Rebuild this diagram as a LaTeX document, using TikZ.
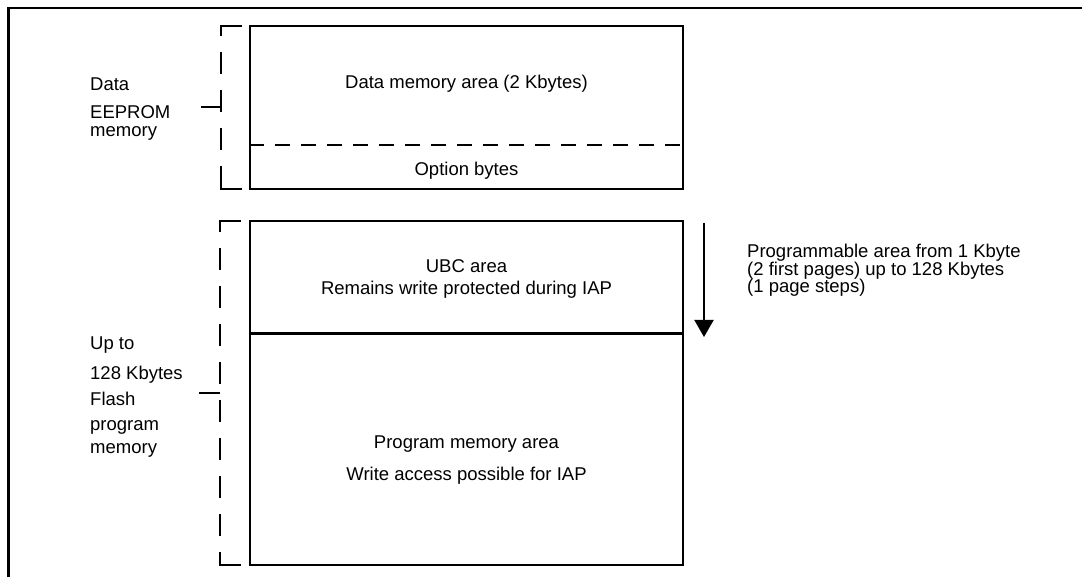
\documentclass[tikz,border=0pt]{standalone}
\usepackage{fontspec}
\setmainfont{Liberation Sans}
\usetikzlibrary{positioning, arrows.meta}

\begin{document}
\begin{tikzpicture}[x=1pt, y=-1pt,
    every node/.style={font=\fontsize{18.5}{22}\selectfont, inner sep=0pt},
    area/.style={draw, line width=2.2pt, minimum width=433pt},
    bracket/.style={line width=2pt, dash pattern=on 22pt off 16pt},
    txt/.style={anchor=base},
    lefttxt/.style={anchor=base west}]
    \useasboundingbox (0,0) rectangle (1082,577);
    % outer frame
    \draw[line width=2.7pt] (8.7,585) -- (8.7,8) -- (1090,8);
    % data EEPROM
    \node[area, minimum height=163pt] (eeprom) at (466.5,107.5) {};
    \draw[line width=2pt, dash pattern=on 15pt off 11pt] (eeprom.west |- 0,145) -- (eeprom.east |- 0,145);
    \node[txt] (datatxt) at (466.5,89) {Data memory area (2 Kbytes)};
    \node[txt] (optiontxt) at (466.5,176) {Option bytes};
    % flash program memory
    \node[area, minimum height=344pt] (flash) at (466.5,393) {};
    \draw[line width=3pt] (flash.west |- 0,334) -- (flash.east |- 0,334);
    \node[txt] (ubctxt) at (466.5,273) {UBC area};
    \node[txt] (ubcnote) at (466.5,295) {Remains write protected during IAP};
    \node[txt] (progtxt) at (466.5,448) {Program memory area};
    \node[txt] (prognote) at (466.5,480) {Write access possible for IAP};
    % brackets
    \draw[line width=2pt] (242,26) -- (221,26) -- ++(0,4);
    \draw[line width=2pt] (242,189) -- (221,189) -- ++(0,-4);
    \draw[bracket, dash phase=12pt] (221,26) -- (221,189);
    \draw[line width=2pt] (241,221) -- (220,221) -- ++(0,4);
    \draw[line width=2pt] (241,565) -- (220,565) -- ++(0,-4);
    \draw[bracket, dash phase=11pt] (220,221) -- (220,565);
    \coordinate (eeprom tick) at (201,107);
    \coordinate (flash tick) at (199,393);
    \draw[line width=2pt] (eeprom tick) -- ++(20,0);
    \draw[line width=2pt] (flash tick) -- ++(21,0);
    \node[lefttxt] (eeprom1) at (90,91) {Data};
    \node[lefttxt] (eeprom2) at (90,119) {EEPROM};
    \node[lefttxt] (eeprom3) at (90,137) {memory};
    \node[lefttxt] (flash1) at (90,350) {Up to};
    \node[lefttxt] (flash2) at (90,380) {128 Kbytes};
    \node[lefttxt] (flash3) at (90,406) {Flash};
    \node[lefttxt] (flash4) at (90,430) {program};
    \node[lefttxt] (flash5) at (90,453) {memory};
    % programmable area arrow
    \coordinate (ubc top) at (704,223);
    \coordinate (ubc end) at (704,337);
    \draw[line width=2pt, -{Triangle[width=19pt,length=17pt]}] (ubc top) -- (ubc end);
    \node[lefttxt] (note1) at (747,258) {Programmable area from 1 Kbyte};
    \node[lefttxt] (note2) at (747,275.5) {(2 first pages) up to 128 Kbytes};
    \node[lefttxt] (note3) at (747,293) {(1 page steps)};
\end{tikzpicture}
\end{document}
